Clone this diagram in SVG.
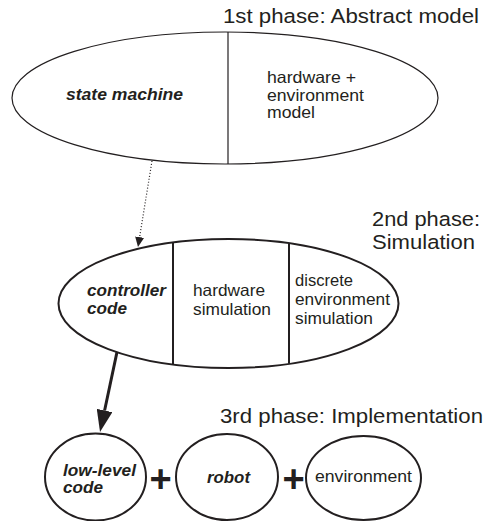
<svg xmlns="http://www.w3.org/2000/svg" width="486" height="521" viewBox="0 0 486 521">
<style>
.t{font-family:"Liberation Sans",Arial,sans-serif;fill:#231f20}
.title{font-size:20.5px}
.in{font-size:16.5px}
.bi{font-size:16.5px;font-weight:bold;font-style:italic}
.plus{font-family:"Liberation Sans",Arial,sans-serif;font-size:38px;font-weight:bold;fill:#231f20}
.shape{fill:#fff;stroke:#231f20}
.thin{stroke-width:1.2}
.med{stroke-width:2}
</style>
<defs>
<marker id="headBig" viewBox="0 0 22 16" refX="0" refY="8" markerWidth="22" markerHeight="16" markerUnits="userSpaceOnUse" orient="auto">
<path d="M0,0 L22,8 L0,16 z" fill="#231f20"/>
</marker>
<marker id="headSmall" viewBox="0 0 10 9" refX="0" refY="4.5" markerWidth="10" markerHeight="9" markerUnits="userSpaceOnUse" orient="auto">
<path d="M0,0 L10,4.5 L0,9 z" fill="#231f20"/>
</marker>
</defs>

<g id="phase1">
<text class="t title" x="223" y="23" textLength="256" lengthAdjust="spacingAndGlyphs">1st phase: Abstract model</text>
<ellipse class="shape thin" cx="225" cy="98" rx="213" ry="66"/>
<line x1="228" y1="32" x2="228" y2="164" stroke="#231f20" stroke-width="1.2"/>
<text class="t bi" x="66" y="100" textLength="117" lengthAdjust="spacingAndGlyphs">state machine</text>
<text class="t in" x="267" y="83" textLength="89" lengthAdjust="spacingAndGlyphs">hardware +</text>
<text class="t in" x="267" y="100.5" textLength="97" lengthAdjust="spacingAndGlyphs">environment</text>
<text class="t in" x="267" y="118" textLength="48" lengthAdjust="spacingAndGlyphs">model</text>
</g>

<g id="phase2">
<text class="t title" x="372" y="226" textLength="108" lengthAdjust="spacingAndGlyphs">2nd phase:</text>
<text class="t title" x="372" y="249" textLength="103" lengthAdjust="spacingAndGlyphs">Simulation</text>
<ellipse class="shape med" cx="228.5" cy="303.5" rx="170" ry="64.5"/>
<line x1="173" y1="242.5" x2="173" y2="364.5" stroke="#231f20" stroke-width="2"/>
<line x1="289" y1="243.2" x2="289" y2="363.8" stroke="#231f20" stroke-width="2"/>
<text class="t bi" x="87" y="296" textLength="79" lengthAdjust="spacingAndGlyphs">controller</text>
<text class="t bi" x="87" y="314" textLength="40" lengthAdjust="spacingAndGlyphs">code</text>
<text class="t in" x="193" y="296" textLength="72" lengthAdjust="spacingAndGlyphs">hardware</text>
<text class="t in" x="193" y="315" textLength="78" lengthAdjust="spacingAndGlyphs">simulation</text>
<text class="t in" x="295" y="286" textLength="58" lengthAdjust="spacingAndGlyphs">discrete</text>
<text class="t in" x="295" y="305" textLength="95" lengthAdjust="spacingAndGlyphs">environment</text>
<text class="t in" x="295" y="324" textLength="78" lengthAdjust="spacingAndGlyphs">simulation</text>
</g>

<g id="phase3-title">
<text class="t title" x="220" y="423" textLength="263" lengthAdjust="spacingAndGlyphs">3rd phase: Implementation</text>
</g>

<g id="lowlevel">
<ellipse class="shape med" cx="95.5" cy="477" rx="50.5" ry="43.5"/>
<text class="t bi" x="63" y="476" textLength="73" lengthAdjust="spacingAndGlyphs">low-level</text>
<text class="t bi" x="63" y="493" textLength="40" lengthAdjust="spacingAndGlyphs">code</text>
</g>
<g id="robot">
<ellipse class="shape med" cx="227" cy="477" rx="51" ry="43"/>
<text class="t bi" x="207" y="483" textLength="43" lengthAdjust="spacingAndGlyphs">robot</text>
</g>
<g id="environment">
<ellipse class="shape med" cx="363.5" cy="478" rx="57.5" ry="42"/>
<text class="t in" x="315" y="482" textLength="97" lengthAdjust="spacingAndGlyphs">environment</text>
</g>
<g id="plus-signs">
<text class="plus" x="160.5" y="491.5" text-anchor="middle">+</text>
<text class="plus" x="293.5" y="491.5" text-anchor="middle">+</text>
</g>

<g id="connectors">
<path d="M152,161 L139.6,237.1" fill="none" stroke="#231f20" stroke-width="1.2" stroke-dasharray="1 2" marker-end="url(#headSmall)"/>
<path d="M117,352 L104.6,410.5" fill="none" stroke="#231f20" stroke-width="3" marker-end="url(#headBig)"/>
</g>
</svg>
